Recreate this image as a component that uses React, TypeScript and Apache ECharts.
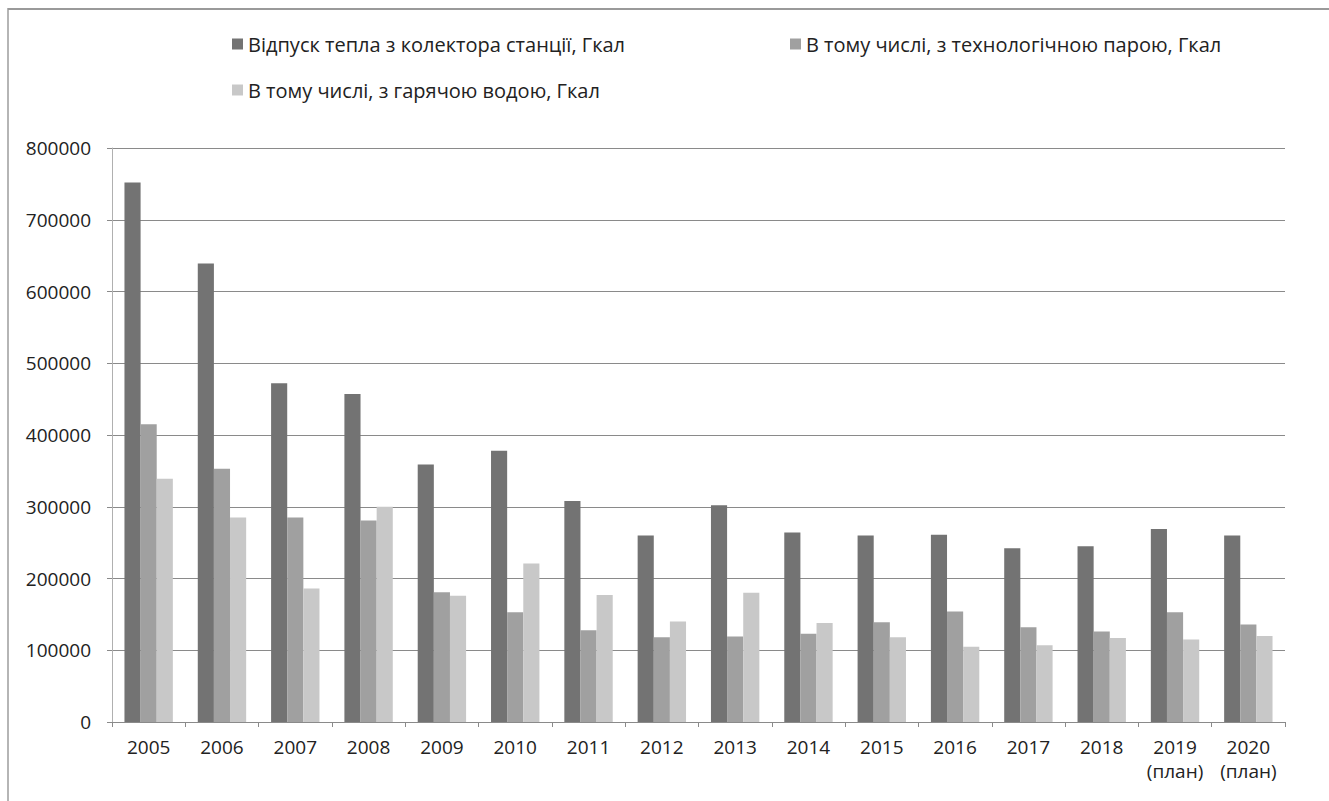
import React, { useEffect, useRef } from "react";
import * as echarts from "echarts";

const categories = [
  "2005", "2006", "2007", "2008", "2009", "2010", "2011", "2012",
  "2013", "2014", "2015", "2016", "2017", "2018", "2019\n(план)", "2020\n(план)",
];

const seriesNames = [
  "Відпуск тепла з колектора станції, Гкал",
  "В тому числі, з технологічною парою, Гкал",
  "В тому числі, з гарячою водою, Гкал",
];

const totalHeat = [752000, 639000, 472000, 457000, 359000, 378000, 308000, 260000, 302000, 264000, 260000, 261000, 242000, 245000, 269000, 260000];
const steamHeat = [415000, 353000, 285000, 281000, 181000, 153000, 128000, 118000, 119000, 123000, 139000, 154000, 132000, 126000, 153000, 136000];
const waterHeat = [339000, 285000, 186000, 300000, 176000, 221000, 177000, 140000, 180000, 138000, 118000, 105000, 107000, 117000, 115000, 120000];

const colors = ["#737373", "#a0a0a0", "#c8c8c8"];
const FONT = "Open Sans";

export default function App() {
  const ref = useRef<HTMLDivElement>(null);
  useEffect(() => {
    if (!ref.current) return;
    const chart = echarts.init(ref.current, undefined, { renderer: "svg" });
    const legendText = { fontFamily: FONT, fontSize: 20, color: "#222" };
    const legendBase = {
      orient: "horizontal" as const,
      itemWidth: 11,
      itemHeight: 11,
      itemGap: 6,
      icon: "rect",
      textStyle: legendText,
      padding: 0,
    };
    chart.setOption({
      animation: false,
      backgroundColor: "#ffffff",
      color: colors,
      legend: [
        { ...legendBase, data: [seriesNames[0]], left: 232, top: 34 },
        { ...legendBase, data: [seriesNames[1]], left: 790, top: 34 },
        { ...legendBase, data: [seriesNames[2]], left: 232, top: 80 },
      ],
      grid: { left: 112, right: 1329 - 1285, top: 148, bottom: 801 - 722, containLabel: false },
      xAxis: {
        type: "category",
        data: categories,
        axisLine: { show: true, lineStyle: { color: "#8a8a8a", width: 1 } },
        axisTick: { show: true, length: 5, lineStyle: { color: "#8a8a8a" } },
        axisLabel: {
          fontFamily: FONT,
          fontSize: 19,
          color: "#222",
          margin: 13,
          lineHeight: 24,
          interval: 0,
        },
      },
      yAxis: {
        type: "value",
        min: 0,
        max: 800000,
        interval: 100000,
        axisLine: { show: true, lineStyle: { color: "#b0b0b0", width: 1 } },
        axisTick: { show: true, length: 5, lineStyle: { color: "#8a8a8a" } },
        axisLabel: {
          fontFamily: FONT,
          fontSize: 19,
          color: "#222",
          margin: 21,
          formatter: (v: number) => String(v),
        },
        splitLine: { show: true, lineStyle: { color: "#8a8a8a", width: 1 } },
      },
      graphic: [
        { type: "line", shape: { x1: 8, y1: 8, x2: 8, y2: 801 }, style: { stroke: "#b5b5b5", lineWidth: 2 } },
        { type: "line", shape: { x1: 8, y1: 9, x2: 1329, y2: 9 }, style: { stroke: "#9a9a9a", lineWidth: 2 } },
      ],
      series: [
        { name: seriesNames[0], type: "bar", data: totalHeat, barGap: "0%", barCategoryGap: "34%" },
        { name: seriesNames[1], type: "bar", data: steamHeat, barGap: "0%", barCategoryGap: "34%" },
        { name: seriesNames[2], type: "bar", data: waterHeat, barGap: "0%", barCategoryGap: "34%" },
      ],
    });
    return () => chart.dispose();
  }, []);
  return (
    <div
      ref={ref}
      style={{ position: "absolute", left: 0, top: 0, width: 1329, height: 801 }}
    />
  );
}
